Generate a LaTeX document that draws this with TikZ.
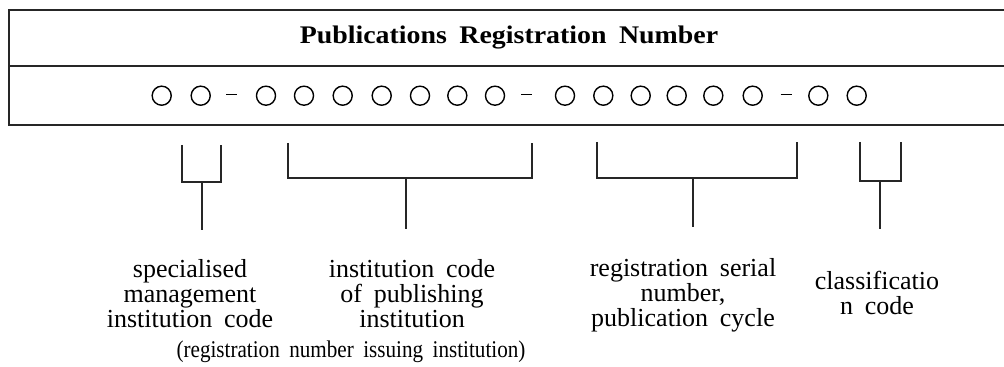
\documentclass[tikz,border=0pt]{standalone}
\usepackage{graphicx}
\usepackage{fontspec}
\setmainfont{Liberation Serif}[WordSpace=1.8]
\begin{document}
\begin{tikzpicture}[x=0.75pt,y=-0.75pt,
  frame/.style={line width=1.5pt,black!85},
  brk/.style={line width=1.1pt,black!85},
  slot/.style={circle,draw,line width=1.05pt,minimum size=14.3pt,inner sep=0pt},
  hyph/.style={line width=0.8pt},
  lbl/.style={font=\fontsize{19.5}{18.75}\selectfont,align=center,inner sep=0pt,anchor=base},
  ttl/.style={font=\fontsize{19}{22}\selectfont\bfseries,inner sep=0pt,anchor=base}]
\useasboundingbox (0,0) rectangle (1004,367);

% outer table: heading row and number row
\draw[frame] (1010,10) -- (9,10) -- (9,125) -- (1010,125);
\draw[frame] (9,66) -- (1010,66);
\node[ttl] (title) at (509,44) {\scalebox{1.1}[1]{Publications Registration Number}};

% the digit slots
\foreach \x [count=\i] in {161.7,200.7,266,304,342.7,381.7,420,457.3,495,565,603.3,640.7,676.7,713.3,752.7,818.3,856.7}
  \node[slot] (c\i) at (\x,95.7) {};
\foreach \x [count=\i] in {231.7,526.7,786}
  \draw[hyph] (\x-5.5,94.5) coordinate (h\i a) -- (\x+5.5,94.5) coordinate (h\i b);

% brackets grouping the slots
\foreach \n/\l/\r/\t/\b/\s/\e in {1/182/221/145/182/202/230, 2/288/532/143/178/406/229,
                                  3/597/797/142/178/693/227, 4/860/901/142/181/880/229}{
  \coordinate (b\n l) at (\l,\t);
  \coordinate (b\n r) at (\r,\t);
  \coordinate (b\n m) at (\s,\b);
  \coordinate (b\n e) at (\s,\e);
  \draw[brk] (b\n l) -- (b\n l |- b\n m) -- (b\n r |- b\n m) -- (b\n r);
  \draw[brk] (b\n m) -- (b\n e);
}

% descriptions (anchored at the baseline of their last line)
\node[lbl] (d1) at (190,327) {specialised\\management\\institution code};
\node[lbl] (d2) at (412,327) {institution code\\of publishing\\institution};
\node[lbl] (d3) at (683,326) {registration serial\\number,\\publication cycle};
\node[lbl] (d4) at (877,315) {classificatio\\n code};
\node[lbl,font=\fontsize{18}{20}\selectfont] (d5) at (351,358)
  {\scalebox{0.88}[1]{(registration number issuing institution)}};
\end{tikzpicture}
\end{document}
